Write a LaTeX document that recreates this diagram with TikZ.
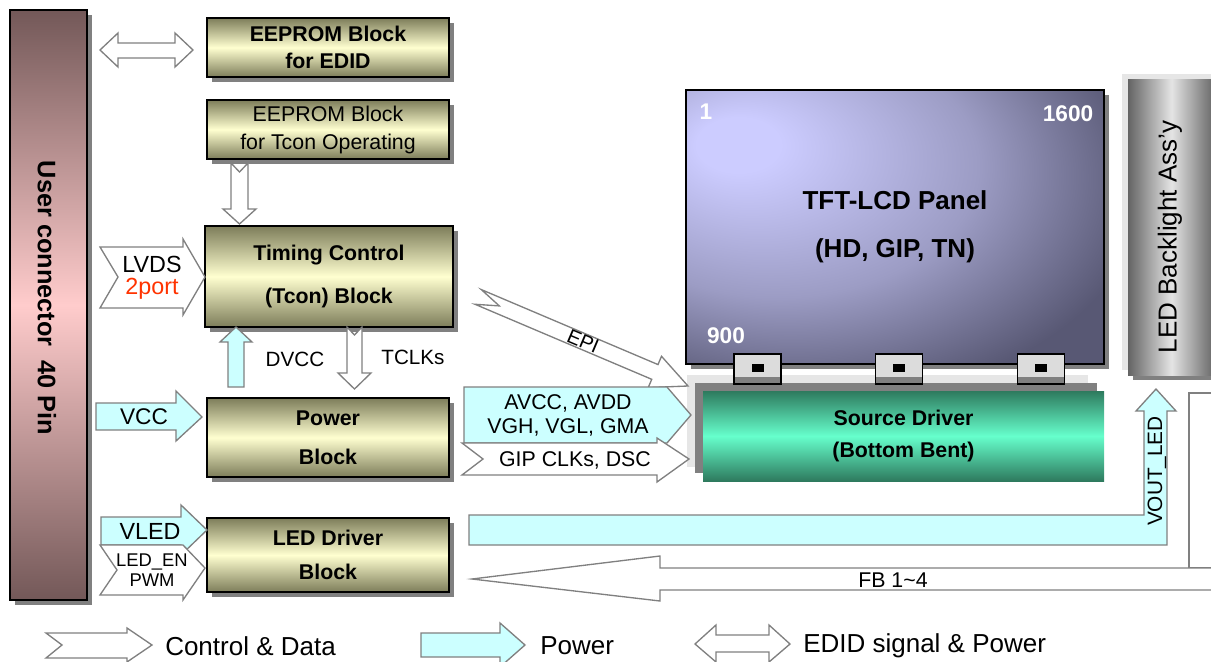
\documentclass[tikz,border=0pt]{standalone}
\usepackage{fontspec}
\setmainfont{Liberation Sans}
\usetikzlibrary{shadows}
\definecolor{blkdark}{RGB}{125,125,90}
\definecolor{blklight}{RGB}{255,255,208}
\definecolor{conndark}{RGB}{115,88,88}
\definecolor{connlight}{RGB}{255,204,204}
\definecolor{pwrcyan}{RGB}{204,255,255}
\definecolor{arrgray}{RGB}{128,128,128}
\definecolor{srcdark}{RGB}{46,122,94}
\definecolor{srclight}{RGB}{102,255,204}
\definecolor{panlight}{RGB}{204,204,255}
\definecolor{panmid}{RGB}{156,156,196}
\definecolor{pandark}{RGB}{88,88,116}
\definecolor{bldark}{RGB}{100,100,100}
\definecolor{bllight}{RGB}{228,228,228}
\definecolor{lvdsred}{RGB}{255,51,0}
\definecolor{bandgray}{RGB}{230,230,230}
\definecolor{tabgray}{RGB}{220,220,220}
\pgfdeclareradialshading{panelshade}{\pgfpoint{-20bp}{16bp}}{color(0bp)=(panlight); color(5bp)=(panlight); color(24bp)=(panmid); color(40bp)=(pandark); color(80bp)=(pandark)}
\tikzset{
  box/.style 2 args={minimum width=#1*0.75pt,minimum height=#2*0.75pt},
  shadowed/.style={drop shadow={opacity=1,fill=arrgray,shadow xshift=3.75pt,shadow yshift=-3.75pt}},
  blk/.style={draw=black,line width=1.5pt,inner sep=0pt,align=center,shadowed,
    top color=blkdark,bottom color=blkdark,middle color=blklight,
    font=\fontsize{16}{19}\selectfont\bfseries},
  connbar/.style={draw=black,line width=1.5pt,inner sep=0pt,shadowed,
    top color=conndark,bottom color=conndark,middle color=connlight},
  panelbox/.style={draw=black,line width=1.5pt,inner sep=0pt,align=center,shadowed,
    shade,shading=panelshade,font=\fontsize{19.5}{23}\selectfont\bfseries},
  srcbox/.style={inner sep=0pt,align=center,
    top color=srcdark,bottom color=srcdark,middle color=srclight,
    font=\fontsize{16}{19}\selectfont\bfseries},
  blbox/.style={inner sep=0pt,shadowed,
    left color=bldark,right color=bldark,middle color=bllight},
  ctrl/.style={draw=arrgray,fill=white,line width=1pt},
  pwr/.style={draw=arrgray,fill=pwrcyan,line width=1pt},
  lbl/.style={inner sep=0pt,align=center,font=\fontsize{16}{19}\selectfont},
  big/.style={inner sep=0pt,font=\fontsize{19.5}{23}\selectfont},
  num/.style={inner sep=0pt,text=white,font=\fontsize{17}{20}\selectfont\bfseries}
}
\begin{document}
\begin{tikzpicture}[x=0.75pt,y=-0.75pt]
  \useasboundingbox (0,0) rectangle (1211,661);
  \clip (0,0) rectangle (1211,661);
  % user connector
  \node[connbar,box={77}{590}] (conn) at (48.5,305) {};
  \node[rotate=-90,inner sep=0pt,font=\fontsize{19}{23}\selectfont\bfseries] (connlbl) at (47,298) {User connector\ \ 40 Pin};
  % blocks
  \node[blk,box={242}{59}] (edid) at (328,47.5) {EEPROM Block\\[1pt]for EDID};
  \node[blk,box={242}{59},font=\fontsize{16}{19}\selectfont] (tconrom) at (328,129.5) {EEPROM Block\\[2pt]for Tcon Operating};
  \node[blk,box={248}{101}] (tcon) at (329,276.5) {Timing Control\\[13pt](Tcon) Block};
  \node[blk,box={242}{79}] (power) at (328,437.5) {Power\\[10pt]Block};
  \node[blk,box={242}{74}] (leddrv) at (328,555) {LED Driver\\[7pt]Block};
  % panel
  \node[panelbox,box={418}{274}] (panel) at (895,227) {TFT-LCD Panel\\[13pt](HD, GIP, TN)};
  \node[num] (n1) at (706,112) {1};
  \node[num] (n1600) at (1068,114) {1600};
  \node[num] (n900) at (726,336) {900};
  % source driver
  \fill[bandgray] (687,375) rectangle (1088,467);
  \fill[arrgray] (695,383) rectangle (1097,473);
  \node[srcbox,box={401}{90}] (src) at (903.5,436) {Source Driver\\[5pt](Bottom Bent)};
  \foreach \tx in {757.5,899,1041}{
    \fill[tabgray] (\tx-23.5,354) rectangle (\tx+23.5,384);
    \fill[arrgray] (\tx-23.5,377) rectangle (\tx+23.5,384);
    \fill[black] (\tx-6,364) rectangle (\tx+6,372);
    \draw[line width=0.8pt] (\tx-23.5,354) rectangle (\tx+23.5,384);
  }
  % backlight
  \fill[bandgray] (1122,74) rectangle (1215,370);
  \node[blbox,box={87}{296}] (bl) at (1171.5,227) {};
  \node[big,rotate=90] (bllbl) at (1170,237) {LED Backlight Ass'y};
  % arrows
  \draw[ctrl] (100,50) -- (118,33) -- (118,43) -- (175,43) -- (175,33) -- (193,50)
    -- (175,67) -- (175,58) -- (118,58) -- (118,67) -- cycle;
  \draw[ctrl] (231,163) -- (239.5,172) -- (248,163) -- (248,209) -- (256,209)
    -- (239.5,224) -- (223,209) -- (231,209) -- cycle;
  \draw[ctrl] (100,247) -- (183,247) -- (183,239) -- (205,277) -- (183,315)
    -- (183,308) -- (100,308) -- (118,277) -- cycle;
  \draw[pwr] (228,387) -- (228,342) -- (220,342) -- (236,327) -- (252,342)
    -- (244,342) -- (244,387) -- cycle;
  \draw[ctrl] (347,327) -- (354.5,335) -- (362,327) -- (362,373) -- (371,373)
    -- (354.5,389) -- (338,373) -- (347,373) -- cycle;
  \draw[pwr] (96,403) -- (176,403) -- (176,391) -- (202,417) -- (176,441)
    -- (176,430) -- (96,430) -- cycle;
  \draw[pwr] (101,517) -- (181,517) -- (181,505) -- (207,530) -- (181,555)
    -- (181,545) -- (101,545) -- cycle;
  \draw[ctrl] (100,545) -- (183,545) -- (205,568) -- (183,600) -- (183,595)
    -- (100,595) -- (117,570) -- cycle;
  \begin{scope}[shift={(688,386)},rotate=-23]
    \draw[ctrl] (0,0) -- (-36,-17) -- (-36,-8) -- (-228,-8) -- (-205,0)
      -- (-228,8) -- (-36,8) -- (-36,17) -- cycle;
    \node[lbl,rotate=-23,font=\fontsize{15}{18}\selectfont] (epi) at (-114,0) {EPI};
  \end{scope}
  \draw[pwr] (464,387) -- (667,387) -- (691,415) -- (667,443) -- (464,443) -- cycle;
  \draw[ctrl] (462,443) -- (657,443) -- (657,438) -- (689,459) -- (657,482)
    -- (657,475) -- (462,475) -- (483,459) -- cycle;
  \draw[pwr] (469,515) -- (1144,515) -- (1144,411) -- (1136,411) -- (1156,389)
    -- (1176,411) -- (1167,411) -- (1167,545) -- (469,545) -- cycle;
  \draw[ctrl] (1189,393) rectangle (1225,568);
  \draw[ctrl] (1225,568) -- (660,568) -- (660,556) -- (472,579) -- (660,601)
    -- (660,590) -- (1225,590) -- cycle;
  % arrow labels
  \node[lbl,font=\fontsize{17.5}{15}\selectfont] (lvds) at (152,264) {LVDS};
  \node[lbl,font=\fontsize{17.5}{15}\selectfont,text=lvdsred] (port) at (152,289) {2port};
  \node[lbl,font=\fontsize{15.5}{18}\selectfont] (dvcc) at (295,359) {DVCC};
  \node[lbl,font=\fontsize{15.5}{18}\selectfont] (tclk) at (413,357) {TCLKs};
  \node[lbl,font=\fontsize{17}{20}\selectfont] (vcc) at (144,417) {VCC};
  \node[lbl,font=\fontsize{17.5}{20}\selectfont] (vled) at (150,531) {VLED};
  \node[lbl,font=\fontsize{13.8}{15}\selectfont] (leden) at (152,570) {LED\_EN\\PWM};
  \node[lbl,font=\fontsize{16}{18}\selectfont] (avcc) at (568,415) {AVCC, AVDD\\VGH, VGL, GMA};
  \node[lbl] (gip) at (575,460) {GIP CLKs, DSC};
  \node[lbl,rotate=90,font=\fontsize{15.6}{18}\selectfont] (vout) at (1157,471) {VOUT\_LED};
  \node[lbl] (fb) at (893,580) {FB 1\textasciitilde 4};
  % legend
  \draw[ctrl] (46,633) -- (127,633) -- (127,628) -- (152,645) -- (127,662)
    -- (127,658) -- (46,658) -- (62,645) -- cycle;
  \node[big,anchor=west] (lgctrl) at (165,646) {Control \& Data};
  \draw[pwr] (421,633) -- (500,633) -- (500,623) -- (525,645) -- (500,667)
    -- (500,657) -- (421,657) -- cycle;
  \node[big,anchor=west] (lgpwr) at (540,646) {Power};
  \draw[ctrl] (695,644) -- (716,625) -- (716,635) -- (769,635) -- (769,625) -- (790,644)
    -- (769,662) -- (769,652) -- (716,652) -- (716,662) -- cycle;
  \node[big,anchor=west] (lgedid) at (803,646) {EDID signal \& Power};
\end{tikzpicture}
\end{document}
